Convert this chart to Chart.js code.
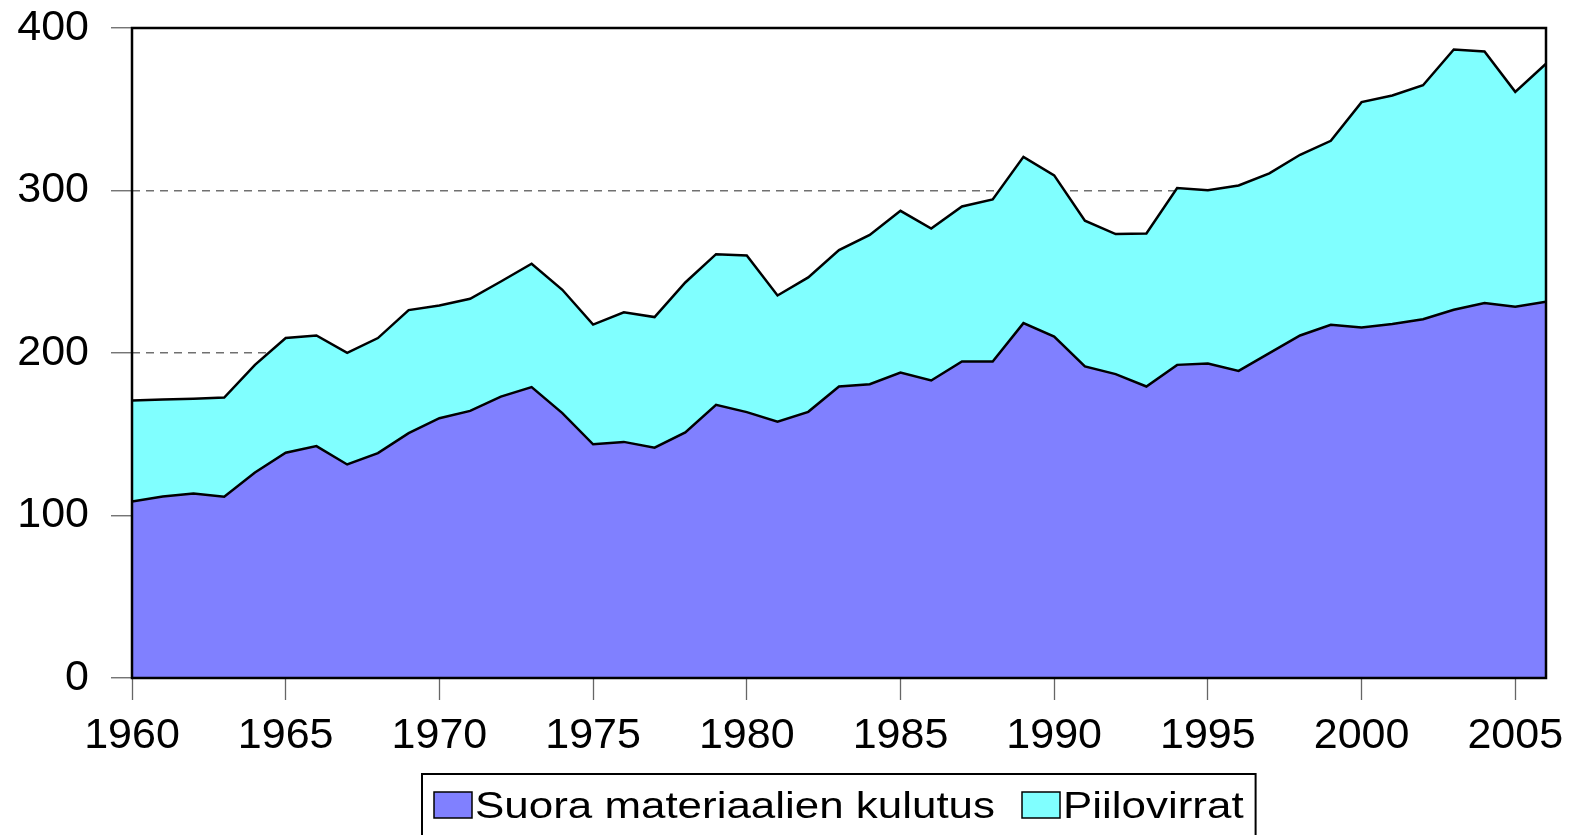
<!DOCTYPE html>
<html>
<head>
<meta charset="utf-8">
<script src="https://cdn.jsdelivr.net/npm/chart.js@4"></script>
<style>
  html, body { margin: 0; padding: 0; background: #fff; }
  #wrap { width: 1570px; height: 835px; position: relative; }
</style>
</head>
<body>
<div id="wrap"><canvas id="mat-chart"></canvas></div>
<script>
// vuodet 1960-2006
const years = [
    1960, 1961, 1962, 1963, 1964, 1965, 1966, 1967, 1968, 1969,
    1970, 1971, 1972, 1973, 1974, 1975, 1976, 1977, 1978, 1979,
    1980, 1981, 1982, 1983, 1984, 1985, 1986, 1987, 1988, 1989,
    1990, 1991, 1992, 1993, 1994, 1995, 1996, 1997, 1998, 1999,
    2000, 2001, 2002, 2003, 2004, 2005, 2006
];
const suoraKulutus = [
    108.6, 111.7, 113.5, 111.5, 126.5, 138.6, 142.7, 131.4, 138.4, 150.7,
    159.9, 164.4, 173.2, 179.0, 163.0, 143.8, 145.3, 141.7, 151.1, 168.1,
    163.6, 157.8, 163.8, 179.4, 180.8, 188.0, 183.1, 194.8, 194.8, 218.4,
    210.1, 191.7, 187.0, 179.4, 192.7, 193.5, 189.0, 199.9, 210.8, 217.4,
    215.7, 217.8, 220.8, 226.6, 230.7, 228.4, 231.5
];
const piilovirrat = [
    62.2, 59.7, 58.3, 61.1, 66.2, 70.6, 68.1, 68.7, 70.8, 75.7,
    69.3, 69.0, 70.8, 75.9, 75.9, 73.7, 79.7, 80.4, 92.3, 92.7,
    96.4, 77.6, 82.7, 83.9, 91.9, 99.5, 93.5, 95.4, 99.7, 102.3,
    99.2, 89.7, 86.2, 94.2, 108.8, 106.7, 114.1, 110.6, 111.2, 113.2,
    138.7, 140.7, 144.0, 160.2, 154.9, 132.3, 146.5
];
const xTicks = [1960, 1965, 1970, 1975, 1980, 1985, 1990, 1995, 2000, 2005];
const yTicks = [0, 100, 200, 300, 400];
const seriesNames = ['Suora materiaalien kulutus', 'Piilovirrat'];
const seriesColors = ['#8080ff', '#80ffff'];

const FONT = '"Liberation Sans", Arial, sans-serif';

const toPoints = vals => years.map((yr, i) => ({ x: yr, y: vals[i] }));

// kehys kuvaajan ympäri
const frame = {
    id: 'frame',
    afterDatasetsDraw(chart) {
        const a = chart.chartArea, ctx = chart.ctx;
        ctx.save();
        ctx.strokeStyle = '#000';
        ctx.lineWidth = 2.5;
        ctx.strokeRect(a.left, a.top, a.right - a.left, a.bottom - a.top);
        ctx.restore();
    }
};

// selite laatikossa, alhaalla keskellä (teksti hieman leveämpää kuin fontti)
const boxLegend = {
    id: 'boxLegend',
    afterDraw(chart) {
        const ctx = chart.ctx, a = chart.chartArea;
        ctx.save();
        ctx.font = '36px ' + FONT;
        const sx = 1.22;
        const sw = 38, sh = 26, gap = 3, spacing = 27, pad = 12;
        const widths = seriesNames.map(n => ctx.measureText(n).width * sx);
        let total = pad * 2 + spacing * (seriesNames.length - 1);
        widths.forEach(w => { total += sw + gap + w; });
        const left = Math.round((a.left + a.right) / 2 - total / 2);
        const top = 774;
        ctx.strokeStyle = '#000';
        ctx.lineWidth = 2;
        ctx.strokeRect(left, top, total, 70);
        let x = left + pad;
        seriesNames.forEach((n, i) => {
            ctx.fillStyle = seriesColors[i];
            ctx.fillRect(x, 792, sw, sh);
            ctx.lineWidth = 1.5;
            ctx.strokeRect(x, 792, sw, sh);
            ctx.fillStyle = '#000';
            ctx.textBaseline = 'alphabetic';
            ctx.save();
            ctx.translate(x + sw + gap, 818);
            ctx.scale(sx, 1);
            ctx.fillText(n, 0, 0);
            ctx.restore();
            x += sw + gap + widths[i] + spacing;
        });
        ctx.restore();
    }
};

new Chart(document.getElementById('mat-chart'), {
    type: 'line',
    data: {
        datasets: [
            {
                label: seriesNames[0],
                data: toPoints(suoraKulutus),
                backgroundColor: seriesColors[0],
                borderColor: '#000',
                borderWidth: 2.5,
                fill: 'origin',
                pointRadius: 0,
                tension: 0
            },
            {
                label: seriesNames[1],
                data: toPoints(piilovirrat),
                backgroundColor: seriesColors[1],
                borderColor: '#000',
                borderWidth: 2.5,
                fill: '-1',
                pointRadius: 0,
                tension: 0
            }
        ]
    },
    options: {
        responsive: true,
        maintainAspectRatio: false,
        animation: false,
        layout: { padding: { left: 0, right: 24, top: 28, bottom: 0 } },
        plugins: {
            legend: { display: false },
            title: { display: false },
            tooltip: { enabled: false }
        },
        scales: {
            x: {
                type: 'linear',
                min: 1960,
                max: 2006,
                afterBuildTicks: s => { s.ticks = xTicks.map(v => ({ value: v })); },
                afterFit: s => {
                    s.height = 157;
                    s.paddingLeft = 0; s.paddingRight = 0;
                },
                grid: { drawOnChartArea: false, drawTicks: true, tickLength: 22, tickColor: '#666', tickWidth: 1.3 },
                border: { display: false },
                ticks: {
                    color: '#000',
                    font: { family: FONT, size: 43 },
                    padding: 10,
                    maxRotation: 0,
                    autoSkip: false,
                    callback: v => String(v)
                }
            },
            y: {
                stacked: true,
                min: 0,
                max: 400,
                afterBuildTicks: s => { s.ticks = yTicks.map(v => ({ value: v })); },
                afterFit: s => {
                    s.width = 132;
                    s.paddingTop = 0; s.paddingBottom = 0;
                },
                grid: { color: '#707070', lineWidth: 1.5, tickLength: 21, tickColor: '#666', tickWidth: 1.3 },
                border: { display: false, dash: [8, 6] },
                ticks: {
                    color: '#000',
                    font: { family: FONT, size: 43 },
                    padding: 22
                }
            }
        }
    },
    plugins: [frame, boxLegend]
});
</script>
</body>
</html>
